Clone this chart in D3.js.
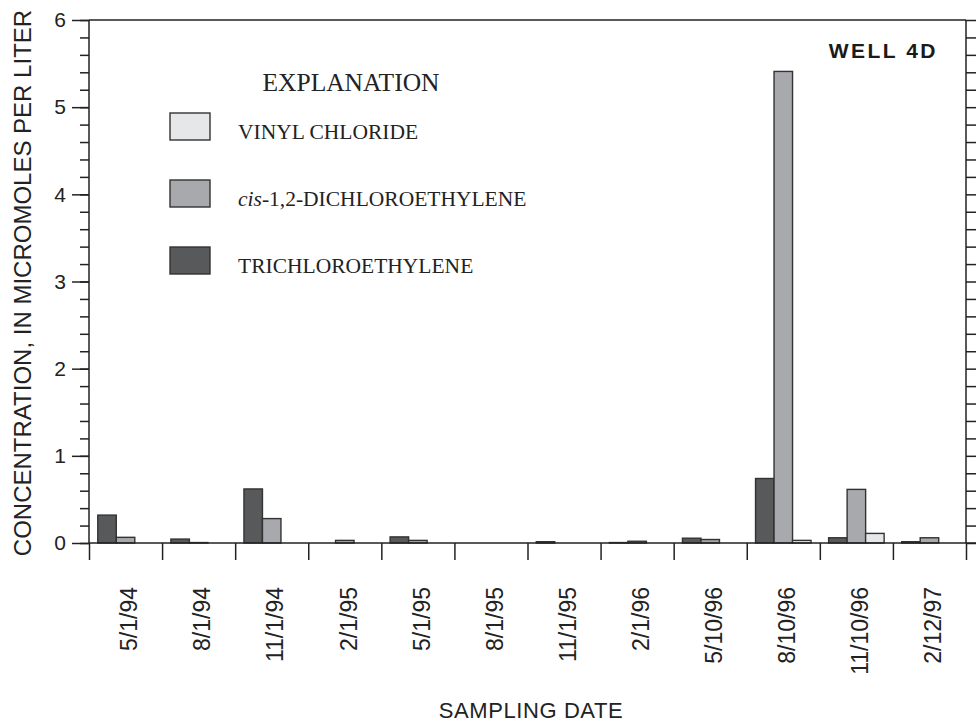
<!DOCTYPE html>
<html>
<head>
<meta charset="utf-8">
<script src="https://cdn.jsdelivr.net/npm/d3@7"></script>
<style>
  body { margin: 0; background: #fff; }
  svg { display: block; }
</style>
</head>
<body>
<svg width="976" height="723"></svg>
<script>
// sampling dates and concentrations (micromoles per liter)
var dates = ["5/1/94", "8/1/94", "11/1/94", "2/1/95", "5/1/95", "8/1/95",
             "11/1/95", "2/1/96", "5/10/96", "8/10/96", "11/10/96", "2/12/97"];
var tce = [0.32, 0.045, 0.62, 0, 0.07, 0, 0.015, 0.005, 0.055, 0.74, 0.06, 0.015];
var cis = [0.065, 0.005, 0.28, 0.03, 0.03, 0, 0, 0.02, 0.04, 5.41, 0.615, 0.06];
var vc = [0, 0, 0, 0, 0, 0, 0, 0, 0, 0.03, 0.11, 0];
var seriesNames = ["tce", "cis", "vc"];
var yTicks = [0, 1, 2, 3, 4, 5, 6];

var colors = {tce: "#58595b", cis: "#a7a9ac", vc: "#e6e7e8"};
var values = {tce: tce, cis: cis, vc: vc};

// plot edges ("top" is taken by window.top)
var plotLeft = 89, plotRight = 966, plotTop = 20, plotBottom = 543;
var svg = d3.select("svg");

var x = d3.scaleBand().domain(dates).range([plotLeft, plotRight]);
var xs = d3.scaleBand().domain(seriesNames).range([0, x.bandwidth()]).paddingOuter(0.475);
var y = d3.scaleLinear().domain([0, 6]).range([plotBottom, plotTop]);
var xi = d3.scaleLinear().domain([0, dates.length]).range([plotLeft, plotRight]);

// bars
var groups = svg.selectAll("g.date")
  .data(dates)
  .enter()
  .append("g")
  .attr("transform", function(d) { return "translate(" + x(d) + ",0)"; });

groups.selectAll("rect")
  .data(function(d, i) {
    return seriesNames.map(function(s) { return {key: s, value: values[s][i]}; })
      .filter(function(e) { return e.value > 0; });
  })
  .enter()
  .append("rect")
  .attr("x", function(d) { return xs(d.key); })
  .attr("width", xs.bandwidth())
  .attr("y", function(d) { return y(d.value); })
  .attr("height", function(d) { return plotBottom - y(d.value); })
  .attr("fill", function(d) { return colors[d.key]; })
  .attr("stroke", "#333")
  .attr("stroke-width", 1.4);

// axes
function styleAxis(g) {
  g.select(".domain").remove();
  g.selectAll("line").attr("stroke", "#222").attr("stroke-width", 1.5);
  g.selectAll("text").attr("fill", "#222")
    .style("font-family", "Liberation Sans, Arial, sans-serif");
}

svg.append("g")
  .attr("transform", "translate(" + plotLeft + ",0)")
  .call(d3.axisLeft(y).tickValues(d3.range(0, 6.01, 0.2)).tickSize(9).tickFormat(""))
  .call(styleAxis);

svg.append("g")
  .attr("transform", "translate(" + plotLeft + ",0)")
  .call(d3.axisLeft(y).tickValues(yTicks).tickSize(17).tickPadding(6).tickFormat(d3.format("d")))
  .call(styleAxis)
  .selectAll("text").style("font-size", "21px");

svg.append("g")
  .attr("transform", "translate(" + plotRight + ",0)")
  .call(d3.axisRight(y).tickValues(d3.range(0, 6.01, 0.2)).tickSize(10).tickFormat(""))
  .call(styleAxis);

svg.append("g")
  .attr("transform", "translate(0," + plotBottom + ")")
  .call(d3.axisBottom(xi).tickValues(d3.range(0, dates.length + 1)).tickSize(17).tickFormat(""))
  .call(styleAxis);

// frame lines
var frame = svg.append("g").attr("stroke", "#222").attr("stroke-width", 1.5);
frame.append("line").attr("x1", plotLeft).attr("x2", plotLeft).attr("y1", plotTop).attr("y2", plotBottom);
frame.append("line").attr("x1", plotRight).attr("x2", plotRight).attr("y1", plotTop).attr("y2", plotBottom);
frame.append("line").attr("x1", plotLeft).attr("x2", plotRight).attr("y1", plotTop).attr("y2", plotTop);
frame.append("line").attr("x1", plotLeft).attr("x2", plotRight + 10).attr("y1", plotBottom).attr("y2", plotBottom);

// date labels
svg.selectAll("text.date")
  .data(dates)
  .enter()
  .append("text")
  .attr("class", "date")
  .attr("transform", function(d) {
    return "translate(" + (x(d) + x.bandwidth() / 2 + 3.5) + ",587) rotate(-90)";
  })
  .attr("text-anchor", "end")
  .attr("dy", "0.36em")
  .attr("fill", "#222")
  .style("font-family", "Liberation Sans, Arial, sans-serif")
  .style("font-size", "23px")
  .text(function(d) { return d; });

// axis titles
svg.append("text")
  .attr("x", 531).attr("y", 718)
  .attr("text-anchor", "middle")
  .attr("fill", "#222")
  .style("font-family", "Liberation Sans, Arial, sans-serif")
  .style("font-size", "22px")
  .style("letter-spacing", "0.6px")
  .text("SAMPLING DATE");

svg.append("text")
  .attr("transform", "translate(31,283) rotate(-90)")
  .attr("text-anchor", "middle")
  .attr("fill", "#222")
  .style("font-family", "Liberation Sans, Arial, sans-serif")
  .style("font-size", "24px")
  .text("CONCENTRATION, IN MICROMOLES PER LITER");

svg.append("text")
  .attr("x", 938).attr("y", 58)
  .attr("text-anchor", "end")
  .attr("fill", "#1a1a1a")
  .style("font-family", "Liberation Sans, Arial, sans-serif")
  .style("font-size", "21px")
  .style("font-weight", "bold")
  .style("letter-spacing", "2.5px")
  .text("WELL 4D");

// legend
var serif = "Liberation Serif, Times New Roman, serif";
svg.append("text")
  .attr("x", 351).attr("y", 91)
  .attr("text-anchor", "middle")
  .attr("fill", "#222")
  .style("font-family", serif)
  .style("font-size", "25.5px")
  .text("EXPLANATION");

var legendItems = [
  {key: "vc", label: "VINYL CHLORIDE"},
  {key: "cis", label: "-1,2-DICHLOROETHYLENE", italic: "cis"},
  {key: "tce", label: "TRICHLOROETHYLENE"}
];

var legend = svg.selectAll("g.legend")
  .data(legendItems)
  .enter()
  .append("g")
  .attr("transform", function(d, i) { return "translate(170," + (113 + i * 67) + ")"; });

legend.append("rect")
  .attr("width", 40).attr("height", 27)
  .attr("fill", function(d) { return colors[d.key]; })
  .attr("stroke", "#333")
  .attr("stroke-width", 1.4);

var lt = legend.append("text")
  .attr("x", 68).attr("y", 26)
  .attr("fill", "#222")
  .style("font-family", serif)
  .style("font-size", "21.5px");
lt.filter(function(d) { return d.italic; })
  .append("tspan").style("font-style", "italic").text(function(d) { return d.italic; });
lt.append("tspan").text(function(d) { return d.label; });
</script>
</body>
</html>
